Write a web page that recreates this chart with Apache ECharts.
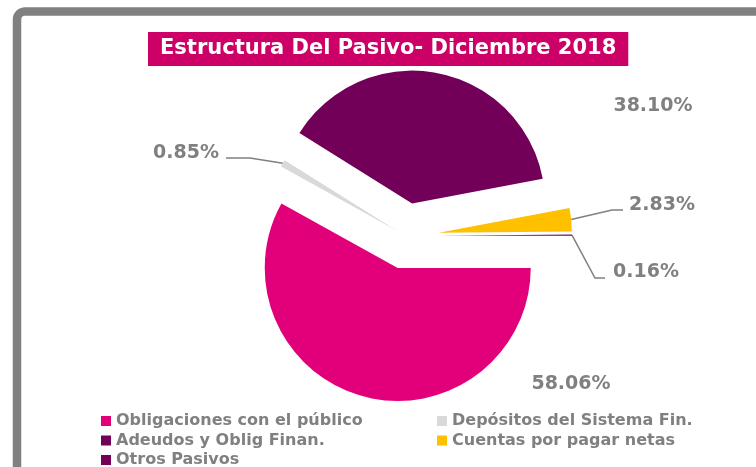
<!DOCTYPE html>
<html>
<head>
<meta charset="utf-8">
<script src="https://cdn.jsdelivr.net/npm/echarts@6/dist/echarts.min.js"></script>
<style>
html,body{margin:0;padding:0;background:#fff;}
#chart{width:756px;height:467px;}
</style>
</head>
<body>
<div id="chart"></div>
<script>
// ---- data ----
const categories = ['Obligaciones con el público', 'Depósitos del Sistema Fin.', 'Adeudos y Oblig Finan.', 'Cuentas por pagar netas', 'Otros Pasivos'];
const values = [58.06, 0.85, 38.10, 2.83, 0.16];
const titleText = 'Estructura Del Pasivo- Diciembre 2018';

// ---- styling / layout ----
const colors = ['#E2007A', '#D9D9D9', '#730058', '#FFC000', '#760059'];
const explodeDist = [33, 10, 33, 33, 33];
const withLine = [false, true, false, true, true];
const labelSpots = [
  {x: 571, y: 384},
  {x: 186, y: 153, bend: [[250, 158], [226, 158]]},
  {x: 653, y: 106},
  {x: 662, y: 205, bend: [[612, 210], [623, 210]]},
  {x: 646, y: 272, bend: [[595, 278], [605, 278]]}
];
const CENTER = [406, 236];
const RADIUS = 133;
const MAIN_OFFSET = 33;
const SMALL_OFFSET = 10;

const FONT = 'DejaVu Sans';
const GREY = '#808080';
const CLEAR = 'rgba(0,0,0,0)';

const chart = echarts.init(document.getElementById('chart'), null, {renderer: 'canvas'});

// main slices (all with the big explosion, the grey one drawn separately)
const mainData = categories.map((name, i) => ({
  name: name,
  value: values[i],
  selected: explodeDist[i] === MAIN_OFFSET,
  itemStyle: {color: explodeDist[i] === MAIN_OFFSET ? colors[i] : CLEAR}
}));
// slices with the small explosion
const smallData = categories.map((name, i) => ({
  name: name,
  value: values[i],
  selected: explodeDist[i] === SMALL_OFFSET,
  itemStyle: {color: explodeDist[i] === SMALL_OFFSET ? colors[i] : CLEAR}
}));
// invisible copy carrying the percentage labels
const labelData = categories.map((name, i) => ({
  name: name,
  value: values[i],
  itemStyle: {color: CLEAR},
  labelLine: {show: withLine[i]}
}));

const pieBase = {
  type: 'pie',
  center: CENTER,
  radius: RADIUS,
  startAngle: 0,
  clockwise: true,
  avoidLabelOverlap: false,
  silent: true,
  legendHoverLink: false,
  emphasis: {disabled: true},
  itemStyle: {borderWidth: 0}
};

const legendBase = {
  orient: 'vertical',
  icon: 'rect',
  itemWidth: 10,
  itemHeight: 10,
  itemGap: 3.5,
  top: 413,
  padding: 0,
  height: 80,
  selectedMode: false,
  textStyle: {color: GREY, fontWeight: 'bold', fontSize: 16, fontFamily: FONT, lineHeight: 16}
};
const legendItem = i => ({name: categories[i], itemStyle: {color: colors[i], opacity: 1}});

chart.setOption({
  animation: false,
  backgroundColor: '#ffffff',
  title: {
    text: titleText,
    left: 148,
    top: 32,
    backgroundColor: '#CC0066',
    padding: [6, 12, 6, 12],
    textStyle: {color: '#ffffff', fontWeight: 'bold', fontSize: 21, fontFamily: FONT, lineHeight: 22}
  },
  graphic: [{
    type: 'rect',
    silent: true,
    z: 100,
    shape: {x: 17, y: 11.5, width: 900, height: 700, r: 8},
    style: {fill: 'none', stroke: GREY, lineWidth: 8.5}
  }],
  legend: [
    Object.assign({}, legendBase, {left: 101, data: [legendItem(0), legendItem(2), legendItem(4)]}),
    Object.assign({}, legendBase, {left: 437, data: [legendItem(1), legendItem(3)]})
  ],
  series: [
    Object.assign({}, pieBase, {
      name: 'main',
      selectedMode: 'multiple',
      selectedOffset: MAIN_OFFSET,
      label: {show: false},
      labelLine: {show: false},
      data: mainData
    }),
    Object.assign({}, pieBase, {
      name: 'small',
      selectedMode: 'multiple',
      selectedOffset: SMALL_OFFSET,
      label: {show: false},
      labelLine: {show: false},
      data: smallData
    }),
    Object.assign({}, pieBase, {
      name: 'labels',
      selectedMode: false,
      data: labelData,
      label: {
        show: true,
        position: 'outside',
        formatter: p => values[p.dataIndex].toFixed(2) + '%',
        color: GREY,
        opacity: 1,
        fontWeight: 'bold',
        fontSize: 19,
        fontFamily: FONT
      },
      labelLine: {
        show: true,
        length: 10,
        length2: 10,
        lineStyle: {color: GREY, width: 1.5, opacity: 1}
      },
      labelLayout: function (params) {
        const i = params.dataIndex;
        const s = labelSpots[i];
        const out = {x: s.x, y: s.y, align: 'center', verticalAlign: 'middle'};
        if (s.bend && params.labelLinePoints) {
          const p0 = params.labelLinePoints[0];
          const ux = (p0[0] - CENTER[0]) / RADIUS;
          const uy = (p0[1] - CENTER[1]) / RADIUS;
          const start = [p0[0] + ux * explodeDist[i], p0[1] + uy * explodeDist[i]];
          out.labelLinePoints = [start, s.bend[0], s.bend[1]];
        }
        return out;
      }
    })
  ]
});
</script>
</body>
</html>
